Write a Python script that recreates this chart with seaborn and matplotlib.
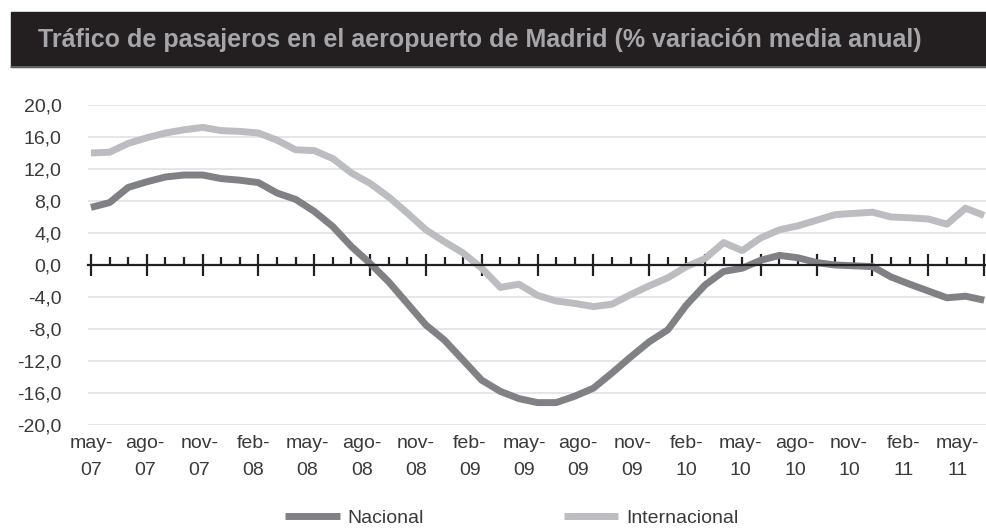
import matplotlib
matplotlib.use("Agg")
import matplotlib.pyplot as plt
from matplotlib.patches import Rectangle
from matplotlib.lines import Line2D
import seaborn as sns
import numpy as np
import pandas as pd

# datos mensuales may-07 ... may-11 (% variación media anual)
nacional = [7.2, 7.8, 9.7, 10.4, 11.0, 11.25, 11.25, 10.8, 10.6, 10.3,
            9.0, 8.2, 6.7, 4.8, 2.3, 0.2, -2.1, -4.8, -7.5, -9.4,
            -11.9, -14.4, -15.8, -16.7, -17.2, -17.2, -16.4, -15.4, -13.5, -11.5,
            -9.6, -8.1, -5.0, -2.5, -0.8, -0.4, 0.6, 1.2, 0.9, 0.3,
            0.0, -0.1, -0.2, -1.5, -2.4, -3.25, -4.1, -3.9, -4.4]
internacional = [14.0, 14.1, 15.2, 15.9, 16.5, 16.9, 17.2, 16.8, 16.7, 16.5,
                 15.6, 14.4, 14.3, 13.3, 11.5, 10.2, 8.5, 6.5, 4.4, 2.9,
                 1.5, -0.4, -2.8, -2.4, -3.8, -4.5, -4.8, -5.2, -4.9, -3.7,
                 -2.6, -1.6, -0.2, 0.8, 2.8, 1.8, 3.4, 4.4, 4.9, 5.6,
                 6.3, 6.45, 6.6, 6.0, 5.9, 5.75, 5.1, 7.1, 6.2]
meses_etiqueta = ["may", "ago", "nov", "feb", "may", "ago", "nov", "feb", "may",
                  "ago", "nov", "feb", "may", "ago", "nov", "feb", "may"]
anios_etiqueta = ["07", "07", "07", "08", "08", "08", "08", "09", "09",
                  "09", "09", "10", "10", "10", "10", "11", "11"]
y_ticks = list(range(-20, 21, 4))

titulo = "Tráfico de pasajeros en el aeropuerto de Madrid (% variación media anual)"

meses = np.arange(len(nacional))
df = pd.DataFrame({
    "mes": np.concatenate([meses, meses]),
    "valor": nacional + internacional,
    "serie": ["Nacional"] * len(nacional) + ["Internacional"] * len(internacional),
})

sns.set_style("white")
plt.rcParams["font.family"] = ["Liberation Sans", "DejaVu Sans"]

fig = plt.figure(figsize=(9.86, 5.29), dpi=100)
ax = fig.add_axes([88 / 986, 1 - 425 / 529, 898 / 986, 320 / 529])

colores = {"Nacional": "#808185", "Internacional": "#bcbdc0"}
sns.lineplot(data=df, x="mes", y="valor", hue="serie", palette=colores,
             linewidth=5, ax=ax, legend=True, solid_capstyle="butt")

ax.set_xlim(-0.16, 48.1)
ax.set_ylim(-20, 20)
ax.set_xlabel("")
ax.set_ylabel("")

# eje y
ax.set_yticks(y_ticks)
ax.set_yticklabels([f"{v:.1f}".replace(".", ",") for v in y_ticks])
ax.tick_params(axis="y", length=0, pad=19, labelsize=14, labelcolor="#3a3a3a")
ax.yaxis.grid(True, color="#e2e2e2", linewidth=1.2)
ax.xaxis.grid(False)

for s in ["left", "top", "right"]:
    ax.spines[s].set_visible(False)
ax.spines["bottom"].set_position(("data", 0))
ax.spines["bottom"].set_color("#231f20")
ax.spines["bottom"].set_linewidth(1.6)

# marcas en la línea del cero
ax.set_xticks(range(0, 49, 3))
ax.set_xticks(range(0, 49), minor=True)
ax.tick_params(axis="x", which="major", bottom=True, direction="inout", length=16,
               width=1.6, color="#231f20", labelbottom=False)
ax.tick_params(axis="x", which="minor", bottom=True, direction="in", length=6,
               width=1.6, color="#231f20")

# etiquetas de fecha abajo
pos_etiquetas = np.arange(len(meses_etiqueta)) * 3 * 0.97
etiquetas = [f"{m}-\n{a}" for m, a in zip(meses_etiqueta, anios_etiqueta)]
sec = ax.secondary_xaxis(0)
sec.set_ticks(pos_etiquetas, labels=etiquetas)
sec.tick_params(length=0, pad=7, labelsize=14, labelcolor="#3a3a3a")
sec.spines["bottom"].set_visible(False)
for t in sec.get_xticklabels():
    t.set_linespacing(1.8)

# leyenda
handles, labels = ax.get_legend_handles_labels()
ax.get_legend().remove()
leg = ax.legend(handles, labels, loc="center", bbox_to_anchor=(0.519, 0.021),
                bbox_transform=fig.transFigure, ncol=2, frameon=False,
                fontsize=14, handlelength=2.8, handletextpad=0.4,
                columnspacing=7.2, borderpad=0)
for h in leg.legend_handles:
    h.set_linewidth(5)
for t in leg.get_texts():
    t.set_color("#3a3a3a")

# barra de título
fig.patches.append(Rectangle((11 / 986, 1 - 67 / 529), 975 / 986, 55 / 529,
                             transform=fig.transFigure, color="#231f20", zorder=0))
fig.add_artist(Line2D([11 / 986, 1], [1 - 67 / 529, 1 - 67 / 529],
                      transform=fig.transFigure, color="#6d6d70", linewidth=1.2))
fig.text(38 / 986, 1 - 40 / 529, titulo, ha="left", va="center",
         fontsize=18, fontweight="bold", color="#a6a6aa")

fig.savefig("out.png", dpi=100)
